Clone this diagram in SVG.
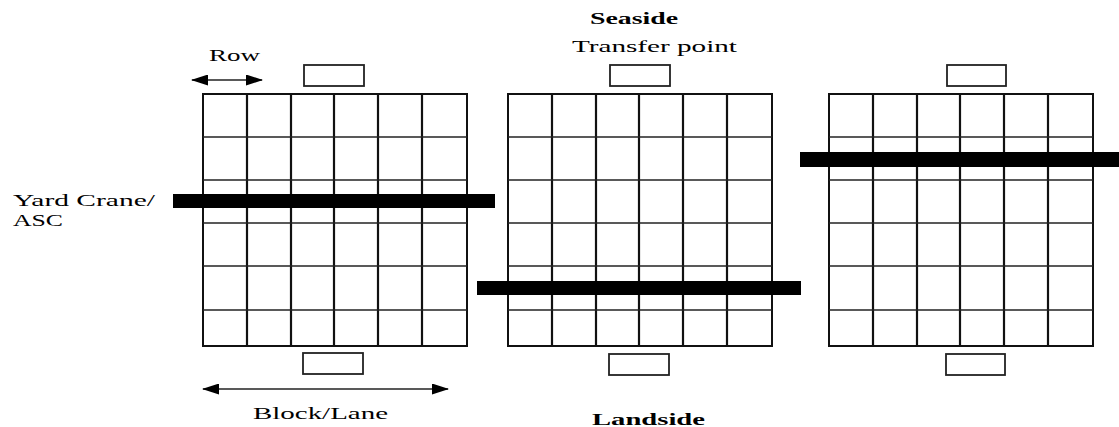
<svg xmlns="http://www.w3.org/2000/svg" width="1119" height="427" viewBox="0 0 1119 427">
<style>
.bg{fill:#fff}
.grid line.v{stroke:#111;stroke-width:2.2}
.grid line.h{stroke:#222;stroke-width:1.6}
.outline{fill:none;stroke:#111;stroke-width:2}
.tp{fill:#fff;stroke:#222;stroke-width:1.8}
.crane{fill:#000}
.lbl{font-family:"Liberation Serif","Times New Roman",serif;fill:#000}
.b{font-weight:bold}
.arrow{stroke:#222;stroke-width:1.5;fill:none}
</style>
<defs>
<marker id="ah" viewBox="0 0 17 11" refX="16" refY="5.5" markerWidth="17" markerHeight="11" markerUnits="userSpaceOnUse" orient="auto-start-reverse">
<path d="M0,0 L17,5.5 L0,11 z" fill="#000"/>
</marker>
<g id="grid" class="grid">
<rect class="outline" x="0" y="0" width="264" height="252"/>
<line class="v" x1="44" y1="0" x2="44" y2="252"/>
<line class="v" x1="88" y1="0" x2="88" y2="252"/>
<line class="v" x1="131" y1="0" x2="131" y2="252"/>
<line class="v" x1="175" y1="0" x2="175" y2="252"/>
<line class="v" x1="219" y1="0" x2="219" y2="252"/>
<line class="h" x1="0" y1="43" x2="264" y2="43"/>
<line class="h" x1="0" y1="86" x2="264" y2="86"/>
<line class="h" x1="0" y1="129" x2="264" y2="129"/>
<line class="h" x1="0" y1="172" x2="264" y2="172"/>
<line class="h" x1="0" y1="216" x2="264" y2="216"/>
</g>
</defs>
<rect class="bg" x="0" y="0" width="1119" height="427"/>

<g id="block1"><use href="#grid" x="203" y="94"/></g>
<g id="block2"><use href="#grid" x="508" y="94"/></g>
<g id="block3"><use href="#grid" x="829" y="94"/></g>

<g id="tp1-top"><rect class="tp" x="304" y="65" width="60" height="21"/></g>
<g id="tp2-top"><rect class="tp" x="610" y="65" width="60" height="21"/></g>
<g id="tp3-top"><rect class="tp" x="947" y="65" width="59" height="21"/></g>
<g id="tp1-bottom"><rect class="tp" x="303" y="353" width="60" height="21"/></g>
<g id="tp2-bottom"><rect class="tp" x="609" y="354" width="60" height="21"/></g>
<g id="tp3-bottom"><rect class="tp" x="946" y="354" width="59" height="21"/></g>

<g id="crane1"><rect class="crane" x="173" y="194" width="322" height="14"/></g>
<g id="crane2"><rect class="crane" x="477" y="281" width="324" height="14"/></g>
<g id="crane3"><rect class="crane" x="800" y="152" width="319" height="15"/></g>

<g id="label-seaside"><text class="lbl b" x="590" y="24" font-size="17" textLength="88" lengthAdjust="spacingAndGlyphs">Seaside</text></g>
<g id="label-transfer"><text class="lbl" x="572" y="52" font-size="17" textLength="165" lengthAdjust="spacingAndGlyphs">Transfer point</text></g>
<g id="label-row"><text class="lbl" x="209" y="61" font-size="16" textLength="51" lengthAdjust="spacingAndGlyphs">Row</text></g>
<g id="label-crane">
<text class="lbl" x="13" y="206" font-size="17" textLength="142" lengthAdjust="spacingAndGlyphs">Yard Crane/</text>
<text class="lbl" x="13" y="226" font-size="17" textLength="50" lengthAdjust="spacingAndGlyphs">ASC</text>
</g>
<g id="label-block"><text class="lbl" x="253" y="419" font-size="17" textLength="135" lengthAdjust="spacingAndGlyphs">Block/Lane</text></g>
<g id="label-landside"><text class="lbl b" x="592" y="425" font-size="17" textLength="113" lengthAdjust="spacingAndGlyphs">Landside</text></g>

<g id="connectors">
<line class="arrow" x1="192" y1="80" x2="262" y2="80" marker-start="url(#ah)" marker-end="url(#ah)"/>
<line class="arrow" x1="203" y1="389" x2="448" y2="389" marker-start="url(#ah)" marker-end="url(#ah)"/>
</g>
</svg>
